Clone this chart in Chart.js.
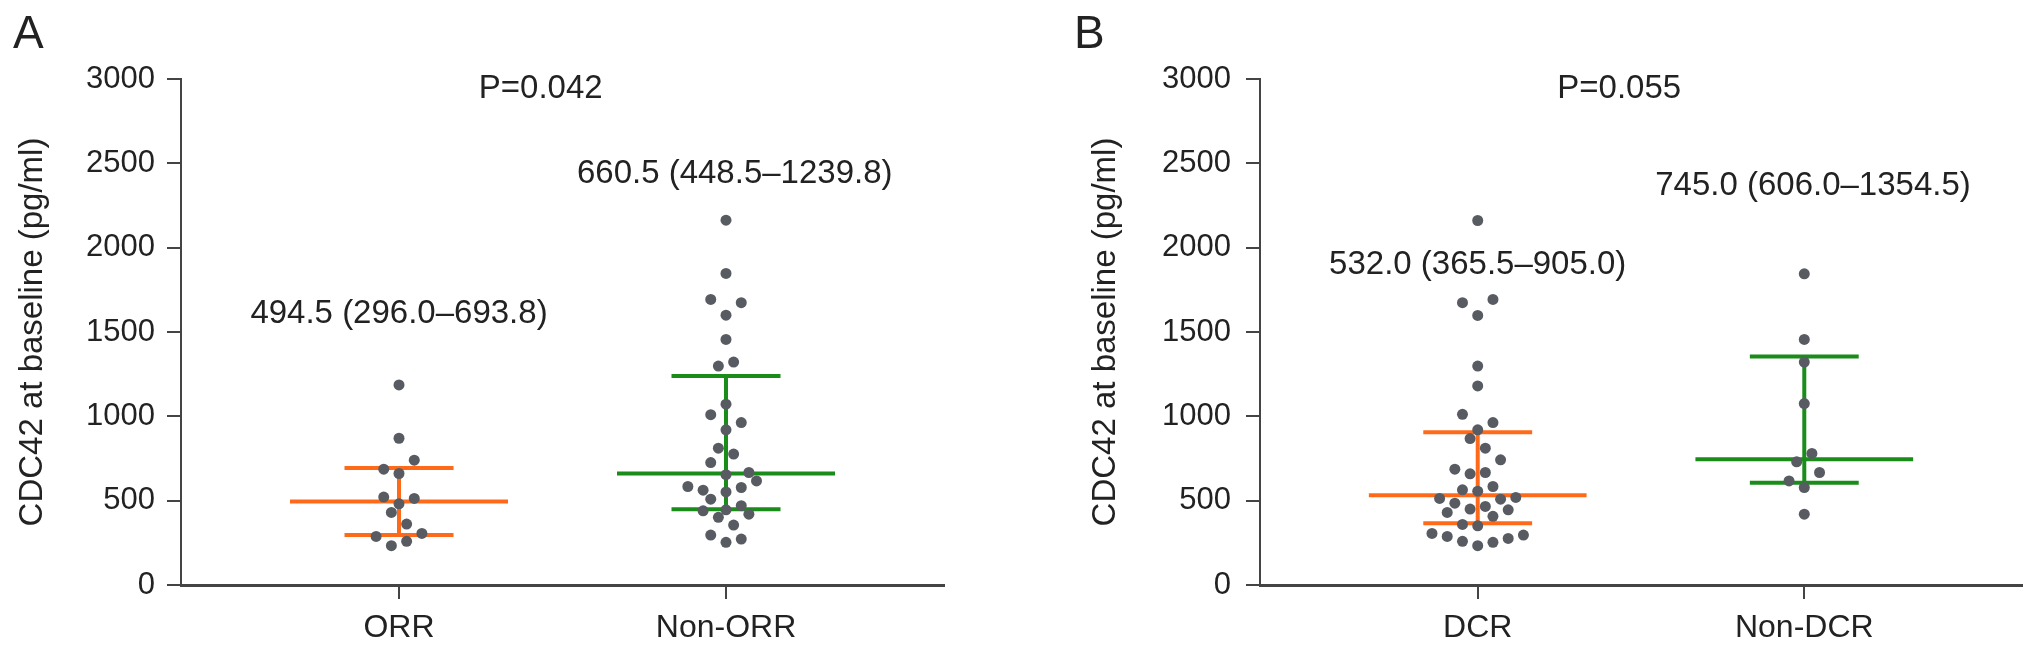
<!DOCTYPE html>
<html>
<head>
<meta charset="utf-8">
<script src="https://cdn.jsdelivr.net/npm/chart.js@4.4.1/dist/chart.umd.min.js"></script>
<style>
  html, body { margin: 0; padding: 0; background: #fff; }
  #wrap { position: relative; width: 2032px; height: 653px; overflow: hidden; }
  .panel { position: absolute; top: 0; }
</style>
</head>
<body>
<div id="wrap">
  <div class="panel" style="left:0"><canvas id="chartA" width="1000" height="653"></canvas></div>
  <div class="panel" style="left:1060px"><canvas id="chartB" width="972" height="653"></canvas></div>
</div>
<script>
// --- data ---
const yTicks = [0, 500, 1000, 1500, 2000, 2500, 3000];
const yTitle = 'CDC42 at baseline (pg/ml)';

// panel A
const catsA = ['ORR', 'Non-ORR'];
const orrValues = [1186, 870, 740, 687, 661, 521, 481, 513, 430, 361, 306, 288, 259, 233];
const orrSlots = [0, 0, 2, -2, 0, -2, 0, 2, -1, 1, 3, -3, 1, -1];
const nonOrrValues = [2163, 1847, 1693, 1674, 1600, 1456, 1298, 1322, 1072, 1010, 963, 920, 811, 776, 726, 654, 667, 617,
  584, 562, 578, 552, 509, 440, 446, 470, 420, 401, 355, 296, 253, 272];
const nonOrrSlots = [0, 0, -2, 2, 0, 0, -1, 1, 0, -2, 2, 0, -1, 1, -2, 0, 3, 4,
  -5, -3, 2, 0, -2, -3, 0, 2, 3, -1, 1, -2, 0, 2];
const medianA = [494.5, 660.5];
const q1A = [296.0, 448.5];
const q3A = [693.8, 1239.8];
const pValueA = 'P=0.042';

// panel B
const catsB = ['DCR', 'Non-DCR'];
const dcrValues = [2161, 1674, 1693, 1598, 1298, 1180, 1012, 963, 920, 868, 811, 742, 687, 659, 667, 564, 556, 584,
  513, 485, 509, 519, 430, 450, 466, 446, 407, 359, 351, 306, 288, 259, 233, 253, 276, 296];
const dcrSlots = [0, -2, 2, 0, 0, 0, -2, 2, 0, -1, 1, 3, -3, -1, 1, -2, 0, 2,
  -5, -3, 3, 5, -4, -1, 1, 4, 2, -2, 0, -6, -4, -2, 0, 2, 4, 6];
const nonDcrValues = [1845, 1456, 1322, 1076, 780, 730, 667, 617, 578, 420];
const nonDcrSlots = [0, 0, 0, 0, 1, -1, 2, -2, 0, 0];
const medianB = [532.0, 745.0];
const q1B = [365.5, 606.0];
const q3B = [905.0, 1354.5];
const pValueB = 'P=0.055';

// --- look ---
const FONT = "'Liberation Sans', Arial, Helvetica, sans-serif";
const TEXT = '#222';
const AXIS = '#444';
const DOT = '#585c62';
const groupColors = ['#ff6a1a', '#1a8c1a'];
const catPos = [1, 2.5];  // x positions of the two groups
const slotWidth = 0.035;  // swarm spacing in x units

Chart.defaults.font.family = FONT;
Chart.defaults.color = TEXT;

function summaryLabel(m, a, b) {
  return m.toFixed(1) + ' (' + a.toFixed(1) + '\u2013' + b.toFixed(1) + ')';
}

function buildDatasets(groups, medians, q1s, q3s) {
  const sets = [];
  // dots first so they sit on top of the lines
  groups.forEach((g, i) => {
    sets.push({
      type: 'scatter',
      data: g.values.map((v, k) => ({ x: catPos[i] + g.slots[k] * slotWidth, y: v })),
      pointRadius: 5.5,
      pointHoverRadius: 5.5,
      backgroundColor: DOT,
      borderWidth: 0
    });
  });
  groups.forEach((g, i) => {
    const c = catPos[i];
    const segs = [
      [[c - 0.5, medians[i]], [c + 0.5, medians[i]]],
      [[c - 0.25, q1s[i]], [c + 0.25, q1s[i]]],
      [[c - 0.25, q3s[i]], [c + 0.25, q3s[i]]],
      [[c, q1s[i]], [c, q3s[i]]]
    ];
    segs.forEach(s => {
      sets.push({
        type: 'line',
        data: s.map(p => ({ x: p[0], y: p[1] })),
        borderColor: groupColors[i],
        borderWidth: 4,
        borderCapStyle: 'butt',
        pointRadius: 0,
        fill: false,
        tension: 0
      });
    });
  });
  return sets;
}

// text labels drawn through the scales
const notesPlugin = {
  id: 'notes',
  afterDatasetsDraw(chart, args, opts) {
    const { ctx, scales } = chart;
    ctx.save();
    ctx.fillStyle = TEXT;
    ctx.textAlign = 'center';
    ctx.textBaseline = 'middle';
    ctx.font = '33px ' + FONT;
    opts.notes.forEach(n => {
      ctx.fillText(n.text, scales.x.getPixelForValue(n.x), scales.y.getPixelForValue(n.y));
    });
    ctx.textAlign = 'left';
    ctx.textBaseline = 'alphabetic';
    ctx.font = '46px ' + FONT;
    ctx.fillText(opts.letter, opts.letterX, 48);
    ctx.restore();
  }
};

function makeChart(id, cats, groups, medians, q1s, q3s, pText, lay) {
  const notes = [
    { text: pText, x: 1.65, y: 2940 },
    { text: summaryLabel(medians[0], q1s[0], q3s[0]), x: catPos[0], y: lay.labelY[0] },
    { text: summaryLabel(medians[1], q1s[1], q3s[1]), x: catPos[1] + 0.04, y: lay.labelY[1] }
  ];
  return new Chart(document.getElementById(id), {
    type: 'scatter',
    data: { datasets: buildDatasets(groups, medians, q1s, q3s) },
    plugins: [notesPlugin],
    options: {
      responsive: false,
      animation: false,
      layout: { padding: { top: 79, right: lay.right, bottom: 0, left: 0 } },
      plugins: {
        legend: { display: false },
        tooltip: { enabled: false },
        notes: { notes: notes, letter: lay.letter, letterX: lay.letterX }
      },
      scales: {
        x: {
          type: 'linear',
          min: 0,
          max: 3.5,
          afterBuildTicks: s => { s.ticks = catPos.map(v => ({ value: v })); },
          afterFit: s => { s.height = 68; },
          ticks: {
            autoSkip: false,
            maxRotation: 0,
            padding: 10,
            font: { size: 32 },
            color: TEXT,
            callback: (v, i) => cats[i]
          },
          grid: { drawOnChartArea: false, drawTicks: true, tickLength: 14, color: AXIS, lineWidth: 2 },
          border: { display: true, color: AXIS, width: 3 }
        },
        y: {
          type: 'linear',
          min: 0,
          max: 3000,
          afterBuildTicks: s => { s.ticks = yTicks.map(v => ({ value: v })); },
          afterFit: s => { s.width = lay.axisLeft; },
          ticks: {
            padding: lay.tickPad,
            font: { size: 31 },
            color: TEXT,
            callback: v => String(v)
          },
          grid: { drawOnChartArea: false, drawTicks: true, tickLength: 14, color: AXIS, lineWidth: 2 },
          border: { display: true, color: AXIS, width: 2 },
          title: {
            display: true,
            text: yTitle,
            font: { size: 33 },
            color: TEXT,
            padding: { top: lay.titlePad, bottom: 0 }
          }
        }
      }
    }
  });
}

makeChart('chartA', catsA,
  [{ values: orrValues, slots: orrSlots }, { values: nonOrrValues, slots: nonOrrSlots }],
  medianA, q1A, q3A, pValueA,
  { right: 56, axisLeft: 181, tickPad: 12, titlePad: 13, labelY: [1610, 2440], letter: 'A', letterX: 13 });

makeChart('chartB', catsB,
  [{ values: dcrValues, slots: dcrSlots }, { values: nonDcrValues, slots: nonDcrSlots }],
  medianB, q1B, q3B, pValueB,
  { right: 10, axisLeft: 200, tickPad: 15, titlePad: 26, labelY: [1896, 2366], letter: 'B', letterX: 14 });
</script>
</body>
</html>
